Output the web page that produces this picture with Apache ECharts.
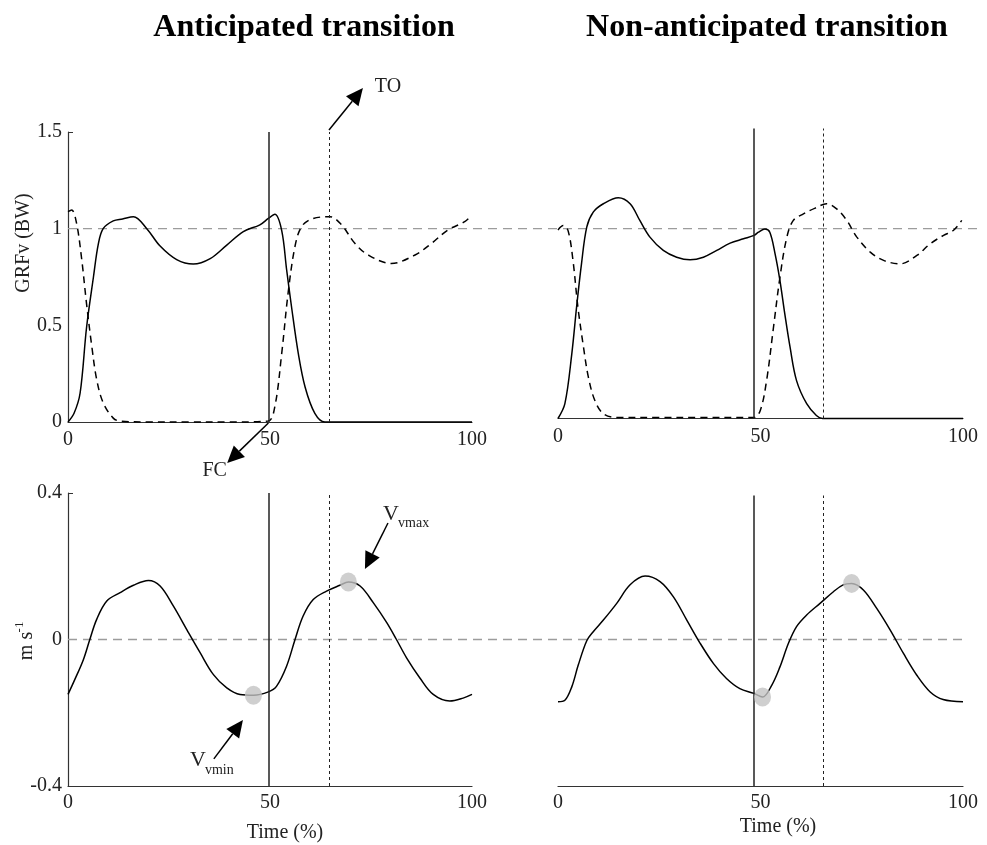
<!DOCTYPE html>
<html>
<head>
<meta charset="utf-8">
<script src="https://cdn.jsdelivr.net/npm/echarts@6/dist/echarts.min.js"></script>
<style>
  html, body { margin: 0; padding: 0; background: #fff; }
  #chart { width: 987px; height: 845px; }
</style>
</head>
<body>
<div id="chart"></div>
<script>
// ---- Vertical ground reaction force (body weights), anticipated transition ----
const grfAntStance1X = [0, 1.5, 3, 4.6, 6.3, 7.5, 8.7, 11.2, 13.5, 16.2, 19.5, 22.8, 26.9, 31, 35.2, 39.3, 43.4, 47.5, 49.6, 51.2, 52.9, 54.1, 55.3, 57, 58.7, 61.1, 63.6, 70, 80, 90, 100];
const grfAntStance1 = [0, 0.045, 0.15, 0.49, 0.75, 0.92, 1.0, 1.04, 1.05, 1.062, 1.0, 0.91, 0.84, 0.817, 0.845, 0.915, 0.985, 1.02, 1.053, 1.074, 0.99, 0.79, 0.6, 0.355, 0.18, 0.045, 0, 0, 0, 0, 0];
const grfAntStance2X = [0, 0.9, 2.1, 3.4, 4.6, 5.9, 7.1, 8.7, 11.2, 12.9, 20, 30, 40, 49.5, 51.2, 52.9, 54.5, 56.2, 57.8, 60.3, 64.8, 67.7, 71, 74.3, 80, 85.9, 90, 94, 98.2, 99.9];
const grfAntStance2 = [1.088, 1.097, 1.03, 0.84, 0.61, 0.39, 0.22, 0.1, 0.02, 0.005, 0, 0, 0, 0.005, 0.08, 0.355, 0.67, 0.91, 1.01, 1.05, 1.062, 1.02, 0.924, 0.864, 0.82, 0.864, 0.924, 0.993, 1.036, 1.07];

// ---- Vertical ground reaction force, non-anticipated transition ----
const grfNonStance1X = [0, 1.7, 3.4, 4.6, 5.8, 7.1, 8.7, 11.2, 14.9, 17.8, 20.2, 22.7, 26, 29.3, 32.6, 35.9, 39.2, 42.5, 45.8, 48.4, 49.5, 51.1, 52.3, 53.6, 54.8, 56, 57.3, 58.9, 61.4, 63.8, 65.3, 75, 90, 100];
const grfNonStance1 = [0, 0.078, 0.34, 0.59, 0.816, 1.01, 1.089, 1.133, 1.165, 1.133, 1.045, 0.957, 0.887, 0.851, 0.837, 0.851, 0.887, 0.925, 0.948, 0.966, 0.983, 1.0, 0.983, 0.869, 0.728, 0.552, 0.376, 0.2, 0.078, 0.016, 0, 0, 0, 0];
const grfNonStance2X = [0, 1.3, 2.5, 3.7, 4.9, 6.3, 7.5, 9.1, 11.2, 14.5, 25, 35, 48.2, 49.9, 51.5, 53.2, 54.8, 56.5, 58.1, 60.6, 63.5, 66.3, 68.8, 71.3, 73.8, 77.1, 80.4, 84.5, 88.6, 91.9, 95.2, 97.6, 99.7];
const grfNonStance2 = [0.995, 1.018, 0.99, 0.834, 0.59, 0.376, 0.218, 0.095, 0.025, 0.005, 0.005, 0.005, 0.005, 0.04, 0.2, 0.48, 0.745, 0.956, 1.045, 1.08, 1.11, 1.133, 1.106, 1.045, 0.957, 0.878, 0.834, 0.816, 0.86, 0.922, 0.966, 0.992, 1.045];

// ---- Vertical velocity of the centre of mass (m/s) ----
const velAntX = [0, 1.7, 3.8, 5.4, 7.1, 9.6, 12.9, 16.2, 19.9, 22.8, 26.1, 29.4, 32.7, 36, 39.3, 42.6, 45.9, 49.6, 51.6, 54.1, 56.2, 58.2, 60.7, 64, 67.3, 69.4, 72.3, 75.6, 78.9, 81.3, 83.8, 87.1, 90.4, 94.5, 97.8, 100];
const velAnt = [-0.15, -0.109, -0.055, 0, 0.055, 0.105, 0.128, 0.148, 0.161, 0.146, 0.091, 0.027, -0.036, -0.096, -0.132, -0.15, -0.152, -0.143, -0.128, -0.073, 0, 0.064, 0.109, 0.132, 0.148, 0.157, 0.146, 0.1, 0.046, 0, -0.05, -0.105, -0.15, -0.168, -0.16, -0.15];
const velNonX = [0, 1.7, 3.4, 5, 7.1, 8.7, 11.2, 14.5, 17.8, 21.5, 25.2, 28.5, 31.8, 35.1, 38.4, 41.6, 44.9, 48.4, 50.5, 52.8, 54.8, 56.9, 58.9, 61.4, 64.7, 68, 70.4, 72.5, 75.4, 78.7, 82, 85.3, 88.6, 91.9, 95.1, 100];
const velNon = [-0.168, -0.164, -0.127, -0.067, 0, 0.025, 0.057, 0.103, 0.154, 0.178, 0.163, 0.121, 0.057, -0.007, -0.063, -0.104, -0.132, -0.145, -0.155, -0.122, -0.072, -0.007, 0.039, 0.071, 0.103, 0.135, 0.154, 0.158, 0.14, 0.089, 0.03, -0.035, -0.095, -0.141, -0.162, -0.168];

// ---- Gait events (% of cycle): foot contact and toe-off ----
const eventsAnt = { fc: 49.7, to: 64.6 };
const eventsNon = { fc: 48.4, to: 65.4 };

// ---- Velocity extremes (time %, m/s) ----
const extremesAnt = [[45.9, -0.152], [69.4, 0.157]];
const extremesNon = [[50.5, -0.155], [72.5, 0.158]];

// ---- Reference levels and axis ticks ----
const bodyWeightLevel = 1;
const zeroVelocity = 0;
const timeTickStep = 50;
const grfTickStep = 0.5;
const velTickStep = 0.4;

const FONT = '"Liberation Serif", "Times New Roman", serif';
const INK = '#222';

const zip = (xs, ys) => xs.map((x, i) => [x, ys[i]]);

const chart = echarts.init(document.getElementById('chart'), null, { renderer: 'canvas' });

function timeAxis(gridIndex, margin) {
  return {
    type: 'value', gridIndex, min: 0, max: 100, interval: timeTickStep,
    axisLine: { show: true, onZero: false, lineStyle: { color: '#333', width: 1.2 } },
    axisTick: { show: false },
    splitLine: { show: false },
    axisLabel: { fontFamily: FONT, fontSize: 20, color: INK, margin }
  };
}
function hiddenAxis(gridIndex, min, max) {
  return { type: 'value', gridIndex, min, max, show: false, splitLine: { show: false } };
}
function eventLines(ev) {
  return {
    silent: true, symbol: ['none', 'none'], label: { show: false }, animation: false,
    emphasis: { disabled: true },
    data: [
      { xAxis: ev.fc, lineStyle: { type: 'solid', width: 1.5, color: INK } },
      { xAxis: ev.to, lineStyle: { type: [3, 3], width: 1, color: INK } }
    ]
  };
}
function curve(idx, data, dashed, extra) {
  return Object.assign({
    type: 'line', xAxisIndex: idx, yAxisIndex: idx, data, smooth: 0.35,
    showSymbol: false, clip: false, z: 3,
    lineStyle: { color: '#000', width: 1.5, type: dashed ? [7, 5] : 'solid' }
  }, extra || {});
}

const option = {
  animation: false,
  backgroundColor: '#fff',
  grid: [
    { left: 68, top: 132, width: 404, height: 290 },
    { left: 558, top: 128.5, width: 405, height: 290 },
    { left: 68, top: 493, width: 404, height: 293 },
    { left: 558, top: 495.5, width: 405, height: 290.5 },
    { left: 68, top: 132, width: 909, height: 290 },
    { left: 68, top: 493, width: 895, height: 293 }
  ],
  xAxis: [
    timeAxis(0, 8), timeAxis(1, 8), timeAxis(2, 7), timeAxis(3, 7),
    hiddenAxis(4, 0, 1), hiddenAxis(5, 0, 1)
  ],
  yAxis: [
    {
      type: 'value', gridIndex: 0, min: 0, max: 1.5, interval: grfTickStep,
      axisLine: { show: true, lineStyle: { color: '#333', width: 1.2 } },
      axisTick: { show: true, inside: true, length: 5, customValues: [1.5], lineStyle: { color: '#333' } },
      splitLine: { show: false },
      axisLabel: { fontFamily: FONT, fontSize: 20, color: INK, margin: 6 }
    },
    hiddenAxis(1, 0, 1.53),
    {
      type: 'value', gridIndex: 2, min: -0.4, max: 0.4, interval: velTickStep,
      axisLine: { show: true, onZero: false, lineStyle: { color: '#333', width: 1.2 } },
      axisTick: { show: true, inside: true, length: 5, customValues: [0.4], lineStyle: { color: '#333' } },
      splitLine: { show: false },
      axisLabel: { fontFamily: FONT, fontSize: 20, color: INK, margin: 6 }
    },
    hiddenAxis(3, -0.4, 0.4),
    hiddenAxis(4, 0, 1.5),
    hiddenAxis(5, -0.4, 0.4)
  ],
  series: [
    // reference levels spanning both panels
    {
      type: 'line', xAxisIndex: 4, yAxisIndex: 4, z: 1, showSymbol: false, silent: true,
      data: [[0, bodyWeightLevel], [1, bodyWeightLevel]],
      lineStyle: { color: '#9c9c9c', width: 1.3, type: [9, 6] }
    },
    {
      type: 'line', xAxisIndex: 5, yAxisIndex: 5, z: 1, showSymbol: false, silent: true,
      data: [[0, zeroVelocity], [1, zeroVelocity]],
      lineStyle: { color: '#9c9c9c', width: 1.3, type: [9, 6] }
    },
    curve(0, zip(grfAntStance1X, grfAntStance1), false, { markLine: eventLines(eventsAnt) }),
    curve(0, zip(grfAntStance2X, grfAntStance2), true),
    curve(1, zip(grfNonStance1X, grfNonStance1), false, { markLine: eventLines(eventsNon) }),
    curve(1, zip(grfNonStance2X, grfNonStance2), true),
    curve(2, zip(velAntX, velAnt), false, { markLine: eventLines(eventsAnt) }),
    curve(3, zip(velNonX, velNon), false, { markLine: eventLines(eventsNon) }),
    {
      type: 'scatter', xAxisIndex: 2, yAxisIndex: 2, z: 5, data: extremesAnt,
      symbol: 'circle', symbolSize: [17, 19], itemStyle: { color: '#c3c3c3' }, silent: true
    },
    {
      type: 'scatter', xAxisIndex: 3, yAxisIndex: 3, z: 5, data: extremesNon,
      symbol: 'circle', symbolSize: [17, 19], itemStyle: { color: '#c3c3c3' }, silent: true
    }
  ]
};
chart.setOption(option);

// ---- Annotations placed in data space of their panel ----
const px = (g, pt) => chart.convertToPixel({ xAxisIndex: g, yAxisIndex: g }, pt);

function arrow(g, from, tip) {
  const s = px(g, from), t = px(g, tip);
  const dx = t[0] - s[0], dy = t[1] - s[1];
  const len = Math.hypot(dx, dy), ux = dx / len, uy = dy / len;
  const L = 17, W = 8;
  const bx = t[0] - ux * L, by = t[1] - uy * L;
  const nx = -uy, ny = ux;
  return [
    { type: 'line', silent: true, z: 10, shape: { x1: s[0], y1: s[1], x2: bx, y2: by },
      style: { stroke: '#000', lineWidth: 1.5 } },
    { type: 'polygon', silent: true, z: 10,
      shape: { points: [[t[0], t[1]], [bx + nx * W, by + ny * W], [bx - nx * W, by - ny * W]] },
      style: { fill: '#000' } }
  ];
}
function label(g, at, text, size, align) {
  const p = px(g, at);
  return { type: 'text', silent: true, z: 10, x: p[0], y: p[1],
    style: { text, fontFamily: FONT, fontSize: size, fill: INK, align: align || 'center', verticalAlign: 'middle' } };
}
function freeText(x, y, text, size, opts) {
  return Object.assign({ type: 'text', silent: true, z: 10, x, y,
    style: Object.assign({ text, fontFamily: FONT, fontSize: size, fill: '#000', align: 'center', verticalAlign: 'middle' }, (opts && opts.style) || {}) },
    (opts && opts.el) || {});
}

const graphics = [].concat(
  arrow(0, [64.6, 1.51], [73.0, 1.728]),
  [label(0, [79.2, 1.733], 'TO', 20)],
  arrow(0, [49.6, -0.005], [39.4, -0.212]),
  [label(0, [36.3, -0.253], 'FC', 20)],
  arrow(2, [79.2, 0.318], [73.5, 0.1925]),
  [label(2, [78.0, 0.343], 'V', 22, 'left'), label(2, [81.7, 0.318], 'vmax', 14, 'left')],
  arrow(2, [36.1, -0.326], [43.3, -0.22]),
  [label(2, [30.2, -0.329], 'V', 22, 'left'), label(2, [33.9, -0.356], 'vmin', 14, 'left')],
  [
    freeText(304, 28, 'Anticipated transition', 32, { style: { fontWeight: 'bold' } }),
    freeText(767, 28, 'Non-anticipated transition', 32, { style: { fontWeight: 'bold' } }),
    freeText(24, 243, 'GRFv (BW)', 20, { style: { fill: INK }, el: { rotation: Math.PI / 2 } }),
    freeText(27, 646, 'm s', 20, { style: { fill: INK }, el: { rotation: Math.PI / 2 } }),
    freeText(20, 627, '-1', 13, { style: { fill: INK }, el: { rotation: Math.PI / 2 } }),
    freeText(285, 833, 'Time (%)', 20, { style: { fill: INK } }),
    freeText(778, 827, 'Time (%)', 20, { style: { fill: INK } })
  ]
);
chart.setOption({ graphic: graphics });
</script>
</body>
</html>
